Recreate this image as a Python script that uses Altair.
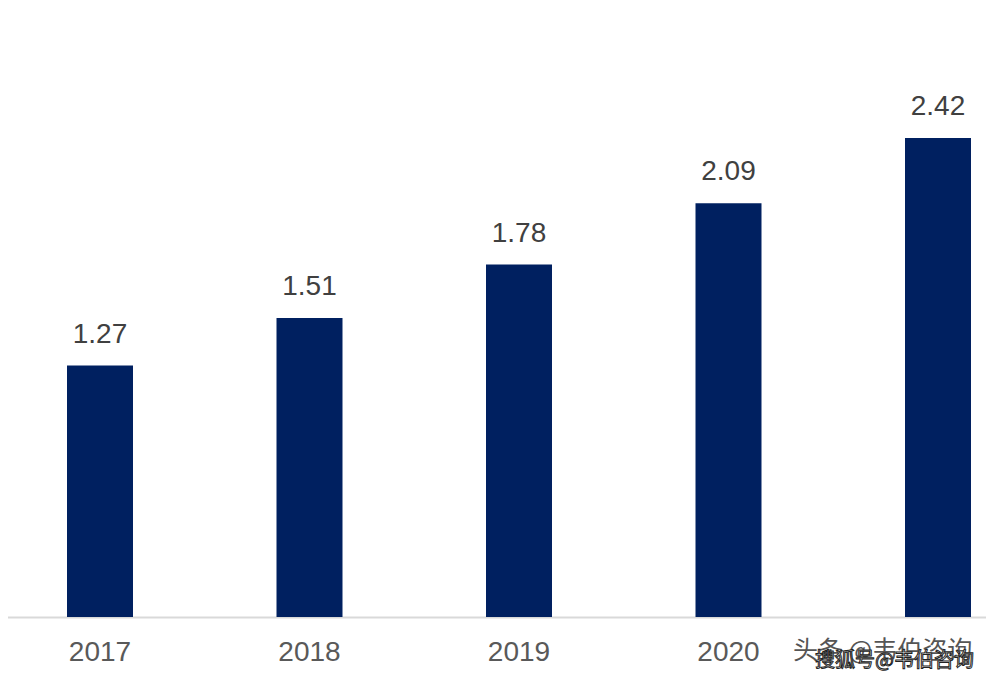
import altair as alt
import pandas as pd

years = ["2017", "2018", "2019", "2020", "2021"]
values = [1.27, 1.51, 1.78, 2.09, 2.42]
labels = ["1.27", "1.51", "1.78", "2.09", "2.42"]

df = pd.DataFrame({"year": years, "value": values, "label": labels})

W, H = 978, 609
FONT = "Liberation Sans"

x = alt.X(
    "year:N",
    sort=years,
    scale=alt.Scale(range=[-12.75, 1034.75], paddingInner=0.685, paddingOuter=0.3425),
    axis=alt.Axis(
        title=None,
        labelFont=FONT,
        labelFontSize=28,
        labelColor="#595959",
        labelPadding=21,
        labelAngle=0,
        ticks=False,
        domainColor="#d9d9d9",
        domainWidth=2,
        labelExpr="datum.value == '2021' ? '' : datum.value",
    ),
)
y = alt.Y(
    "value:Q",
    scale=alt.Scale(domain=[0, 3.076], nice=False),
    axis=None,
)

bars = alt.Chart(df).mark_bar(color="#002060", clip=True).encode(x=x, y=y)
text = alt.Chart(df).mark_text(
    font=FONT, fontSize=28, color="#404040", baseline="alphabetic", dy=-23, clip=True
).encode(x=x, y=y, text="label:N")

wm1 = alt.Chart(pd.DataFrame({"t": ["头条 @韦伯咨询"]})).mark_text(
    font="Noto Sans CJK SC", fontSize=25, color="#555555", align="left", baseline="middle"
).encode(x=alt.value(785), y=alt.value(643), text="t:N")
wm2 = alt.Chart(pd.DataFrame({"t": ["搜狐号@韦伯咨询"]})).mark_text(
    font="Noto Sans CJK SC", fontSize=20, color="#ffffff", stroke="#222222", strokeWidth=1,
    align="left", baseline="middle"
).encode(x=alt.value(807), y=alt.value(653), text="t:N")

chart = alt.layer(bars, text, wm1, wm2).properties(
    width=W, height=H,
    padding={"left": 0, "top": 0, "right": 0, "bottom": 64},
    autosize=alt.AutoSizeParams(type="none"),
    background="white",
).configure_view(stroke=None)

chart.save("out.html", embed_options={"renderer": "svg", "actions": False})
